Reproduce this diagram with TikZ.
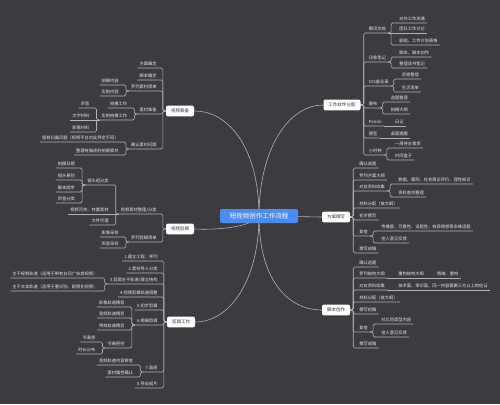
\documentclass[tikz,border=0pt]{standalone}
\usepackage{fontspec}
\setmainfont{Noto Sans CJK SC}
\usepackage{tikz}
\usetikzlibrary{calc,backgrounds}

\definecolor{bgdark}{HTML}{3A3C40}
\definecolor{linegray}{HTML}{B4B4B4}
\definecolor{leaftext}{HTML}{E8E8E8}
\definecolor{rootblue}{HTML}{4A8DF2}
\definecolor{topictext}{HTML}{333333}

\tikzset{
  rootbox/.style={fill=rootblue, text=white, rounded corners=2pt, font=\fontsize{6.5}{7}\selectfont,
                  minimum width=78pt, minimum height=14pt},
  topic/.style={fill=white, text=topictext, rounded corners=2pt, font=\fontsize{4.5}{5}\selectfont,
                minimum height=10pt, inner xsep=5pt},
  leaf/.style={text=leaftext, font=\fontsize{4.25}{5}\selectfont, inner xsep=2pt, inner ysep=1.6pt,
               text height=3.7pt, text depth=0.5pt},
  rleaf/.style={leaf, anchor=south west},
  lleaf/.style={leaf, anchor=south east},
  branch/.style={draw=linegray, line width=0.6pt, rounded corners=1.5pt},
}

\begin{document}
\begin{tikzpicture}[x=1pt, y=-1pt]
  \useasboundingbox (0,0) rectangle (500,404);

  % centre and main topics
  \node[rootbox] (root) at (259,216) {短视频创作工作流程};
  \node[topic] (tools)  at (342,105) {工作软件分配};
  \node[topic] (plan)   at (336,217) {方案撰写};
  \node[topic] (script) at (336,310) {脚本创作};
  \node[topic] (prep)   at (180,111) {视频筹备};
  \node[topic] (post)   at (180,229) {视频后期};
  \node[topic] (edit)   at (181,322) {剪辑工作};

  % work tools
  \node[rleaf] (ws1) at ($(tools.east)+(6,-72)$) {腾讯文档};
  \node[rleaf] (ws2) at ($(tools.east)+(6,-43)$) {印象笔记};
  \node[rleaf] (ws3) at ($(tools.east)+(6,-19)$) {IOS备忘录};
  \node[rleaf] (ws4) at ($(tools.east)+(6,3)$) {幕布};
  \node[rleaf] (ws5) at ($(tools.east)+(6,21)$) {Pendo};
  \node[rleaf] (ws6) at ($(tools.east)+(6,33)$) {便签};
  \node[rleaf] (ws7) at ($(tools.east)+(6,50)$) {小时钟};
  \node[rleaf] (ws1a) at ($(ws1.south east)+(9,-10)$) {对外工作流通};
  \node[rleaf] (ws1b) at ($(ws1.south east)+(9,0)$) {团队工作讨论};
  \node[rleaf] (ws1c) at ($(ws1.south east)+(9,12)$) {剧组、工作计划表格};
  \node[rleaf] (ws2a) at ($(ws2.south east)+(9,-5)$) {脚本、脚本创作};
  \node[rleaf] (ws2b) at ($(ws2.south east)+(9,6)$) {整理读书笔记};
  \node[rleaf] (ws3a) at ($(ws3.south east)+(9,-7)$) {灵感整理};
  \node[rleaf] (ws3b) at ($(ws3.south east)+(9,6)$) {生活清单};
  \node[rleaf] (ws4a) at ($(ws4.south east)+(9,-6)$) {选题整理};
  \node[rleaf] (ws4b) at ($(ws4.south east)+(9,6)$) {拍摄大纲};
  \node[rleaf] (ws5a) at ($(ws5.south east)+(9,0)$) {日记};
  \node[rleaf] (ws6a) at ($(ws6.south east)+(9,0)$) {桌面提醒};
  \node[rleaf] (ws7a) at ($(ws7.south east)+(9,-7)$) {一周待办事项};
  \node[rleaf] (ws7b) at ($(ws7.south east)+(9,5)$) {时间盒子};

  % plan writing
  \node[rleaf] (pl1) at ($(plan.east)+(7,-49)$) {确认选题};
  \node[rleaf] (pl2) at ($(plan.east)+(7,-37)$) {罗列方案大纲};
  \node[rleaf] (pl3) at ($(plan.east)+(7,-26)$) {对应资料收集};
  \node[rleaf] (pl4) at ($(plan.east)+(7,-9)$) {材料分配（放大纲）};
  \node[rleaf] (pl5) at ($(plan.east)+(7,3)$) {初步撰写};
  \node[rleaf] (pl6) at ($(plan.east)+(7,19)$) {复查};
  \node[rleaf] (pl7) at ($(plan.east)+(7,36)$) {撰写成稿};
  \node[rleaf] (pl3a) at ($(pl3.south east)+(9,-7)$) {数据、案例、社会舆论评价、理性知识};
  \node[rleaf] (pl3b) at ($(pl3.south east)+(9,6)$) {资料查找整理};
  \node[rleaf] (pl6a) at ($(pl6.south east)+(9,-5)$) {传播度、可看性、话题性、有获得感等多维话题};
  \node[rleaf] (pl6b) at ($(pl6.south east)+(9,7)$) {他人意见反馈};

  % script writing
  \node[rleaf] (sc1) at ($(script.east)+(7,-43)$) {确认选题};
  \node[rleaf] (sc2) at ($(script.east)+(7,-32)$) {罗列结构大纲};
  \node[rleaf] (sc3) at ($(script.east)+(7,-20)$) {对应资料收集};
  \node[rleaf] (sc4) at ($(script.east)+(7,-8)$) {材料分配（放大纲）};
  \node[rleaf] (sc5) at ($(script.east)+(7,4)$) {撰写初稿};
  \node[rleaf] (sc6) at ($(script.east)+(7,22)$) {复查};
  \node[rleaf] (sc7) at ($(script.east)+(7,38)$) {撰写成稿};
  \node[rleaf] (sc2a) at ($(sc2.south east)+(9,0)$) {重构结构大纲};
  \node[rleaf] (sc2b) at ($(sc2a.south east)+(9,0)$) {情绪、重构};
  \node[rleaf] (sc3a) at ($(sc3.south east)+(9,0)$) {技术面、常识面、同一内容需要三方以上的佐证};
  \node[rleaf] (sc6a) at ($(sc6.south east)+(9,-8)$) {对比同类型内容};
  \node[rleaf] (sc6b) at ($(sc6.south east)+(9,5)$) {他人意见反馈};

  % preparation
  \node[lleaf] (pr1) at ($(prep.west)+(-7,-43)$) {方案确定};
  \node[lleaf] (pr2) at ($(prep.west)+(-7,-31)$) {脚本确定};
  \node[lleaf] (pr3) at ($(prep.west)+(-7,-20)$) {罗列素材清单};
  \node[lleaf] (pr4) at ($(prep.west)+(-7,3)$) {素材准备};
  \node[lleaf] (pr5) at ($(prep.west)+(-7,38)$) {确认素材问题};
  \node[lleaf] (pr3a) at ($(pr3.south west)+(-8,-6)$) {拍摄内容};
  \node[lleaf] (pr3b) at ($(pr3.south west)+(-8,5)$) {实拍内容};
  \node[lleaf] (pr4a) at ($(pr4.south west)+(-8,-6)$) {拍摄工作};
  \node[lleaf] (pr4b) at ($(pr4.south west)+(-8,6)$) {实拍拍摄工作};
  \node[lleaf] (pr4c) at ($(pr4b.south west)+(-8,-12)$) {声音};
  \node[lleaf] (pr4d) at ($(pr4b.south west)+(-8,0)$) {文字材料};
  \node[lleaf] (pr4e) at ($(pr4b.south west)+(-8,12)$) {影像材料};
  \node[lleaf] (pr5a) at ($(pr5.south west)+(-8,-7)$) {版权归属问题（视频平台对此界定不同）};
  \node[lleaf] (pr5b) at ($(pr5.south west)+(-8,6)$) {整理有描述的拍摄素材};

  % post production
  \node[lleaf] (po1) at ($(post.west)+(-7,-15)$) {视频素材整理/分类};
  \node[lleaf] (po2) at ($(post.west)+(-7,13)$) {罗列剪辑清单};
  \node[lleaf] (po1a) at ($(po1.south west)+(-8,-29)$) {镜头组分类};
  \node[lleaf] (po1f) at ($(po1.south west)+(-8,0)$) {视频冗余、存量素材};
  \node[lleaf] (po1g) at ($(po1.south west)+(-8,11)$) {文件代理};
  \node[lleaf] (po1b) at ($(po1a.south west)+(-8,-17)$) {拍摄日期};
  \node[lleaf] (po1c) at ($(po1a.south west)+(-8,-5)$) {镜头景别};
  \node[lleaf] (po1d) at ($(po1a.south west)+(-8,7)$) {脚本顺序};
  \node[lleaf] (po1e) at ($(po1a.south west)+(-8,18)$) {声音分类};
  \node[lleaf] (po2a) at ($(po2.south west)+(-8,-5)$) {影像采样};
  \node[lleaf] (po2b) at ($(po2.south west)+(-8,6)$) {声音采样};

  % editing
  \node[lleaf] (ed1) at ($(edit.west)+(-7,-61)$) {1.建立工程、序列};
  \node[lleaf] (ed2) at ($(edit.west)+(-7,-49)$) {2.素材导入分类};
  \node[lleaf] (ed3) at ($(edit.west)+(-7,-38)$) {3.剪辑主干轨道/建立结构};
  \node[lleaf] (ed4) at ($(edit.west)+(-7,-25)$) {4.视频剪辑轨道调整};
  \node[lleaf] (ed5) at ($(edit.west)+(-7,-12)$) {5.初步剪辑};
  \node[lleaf] (ed6) at ($(edit.west)+(-7,3)$) {6.精细剪辑};
  \node[lleaf] (ed7) at ($(edit.west)+(-7,50)$) {7.画质};
  \node[lleaf] (ed8) at ($(edit.west)+(-7,66)$) {8.导出成片};
  \node[lleaf] (ed3a) at ($(ed3.south west)+(-8,-6)$) {主干视频轨道（适用于带有台词广告类视频）};
  \node[lleaf] (ed3b) at ($(ed3.south west)+(-8,7)$) {主干文本轨道（适用于重识别、剧情化视频）};
  \node[lleaf] (ed6a) at ($(ed6.south west)+(-8,-18)$) {影像轨道精剪};
  \node[lleaf] (ed6b) at ($(ed6.south west)+(-8,-7)$) {音频轨道精剪};
  \node[lleaf] (ed6c) at ($(ed6.south west)+(-8,5)$) {特效轨道精剪};
  \node[lleaf] (ed6d) at ($(ed6.south west)+(-8,23)$) {节奏把控};
  \node[lleaf] (ed6e) at ($(ed6d.south west)+(-8,-6)$) {节奏感};
  \node[lleaf] (ed6f) at ($(ed6d.south west)+(-8,6)$) {时长分布};
  \node[lleaf] (ed7a) at ($(ed7.south west)+(-8,-7)$) {音频轨道内容审查};
  \node[lleaf] (ed7b) at ($(ed7.south west)+(-8,5)$) {素材属性确认};

  \begin{scope}[on background layer]
    \fill[bgdark] (0,0) rectangle (500,404);

    % centre to main topics
    \draw[branch] (root.center) .. controls (259,150) and (288,105) .. (tools.west);
    \draw[branch] (root.center) .. controls (259,150) and (230,111) .. (prep.east);
    \draw[branch] (root.center) .. controls (259,280) and (288,310) .. (script.west);
    \draw[branch] (root.center) .. controls (259,280) and (230,322) .. (edit.east);
    \draw[branch] (root.center) .. controls (250,228) and (215,230) .. (post.east);
    \draw[branch] (root.center) -- (plan.west);

    % right side brackets
    \foreach \c in {ws1,ws2,ws3,ws4,ws5,ws6,ws7}
      \draw[branch] (tools.east) -- ++(3,0) |- (\c.south west) -- (\c.south east);
    \foreach \c in {pl1,pl2,pl3,pl4,pl5,pl6,pl7}
      \draw[branch] (plan.east) -- ++(3,0) |- (\c.south west) -- (\c.south east);
    \foreach \c in {sc1,sc2,sc3,sc4,sc5,sc6,sc7}
      \draw[branch] (script.east) -- ++(3,0) |- (\c.south west) -- (\c.south east);
    \foreach \p/\c in {ws1/ws1a,ws1/ws1c,ws2/ws2a,ws2/ws2b,ws3/ws3a,ws3/ws3b,ws4/ws4a,ws4/ws4b,
                       ws7/ws7a,ws7/ws7b,pl3/pl3a,pl3/pl3b,pl6/pl6a,pl6/pl6b,sc6/sc6a,sc6/sc6b}
      \draw[branch] (\p.south east) -- ++(3,0) |- (\c.south west) -- (\c.south east);
    \foreach \p/\c in {ws1/ws1b,ws5/ws5a,ws6/ws6a,sc2/sc2a,sc2a/sc2b,sc3/sc3a}
      \draw[branch] (\p.south east) -- (\c.south east);

    % left side brackets
    \foreach \c in {pr1,pr2,pr3,pr4,pr5}
      \draw[branch] (prep.west) -- ++(-3,0) |- (\c.south east) -- (\c.south west);
    \foreach \c in {po1,po2}
      \draw[branch] (post.west) -- ++(-3,0) |- (\c.south east) -- (\c.south west);
    \foreach \c in {ed1,ed2,ed3,ed4,ed5,ed6,ed7,ed8}
      \draw[branch] (edit.west) -- ++(-3,0) |- (\c.south east) -- (\c.south west);
    \foreach \p/\c in {pr3/pr3a,pr3/pr3b,pr4/pr4a,pr4/pr4b,pr4b/pr4c,pr4b/pr4e,pr5/pr5a,pr5/pr5b,
                       po1/po1a,po1/po1g,po1a/po1b,po1a/po1c,po1a/po1d,po1a/po1e,po2/po2a,po2/po2b,
                       ed3/ed3a,ed3/ed3b,ed6/ed6a,ed6/ed6b,ed6/ed6c,ed6/ed6d,ed6d/ed6e,ed6d/ed6f,
                       ed7/ed7a,ed7/ed7b}
      \draw[branch] (\p.south west) -- ++(-3,0) |- (\c.south east) -- (\c.south west);
    \foreach \p/\c in {pr4b/pr4d,po1/po1f}
      \draw[branch] (\p.south west) -- (\c.south west);
  \end{scope}
\end{tikzpicture}
\end{document}
